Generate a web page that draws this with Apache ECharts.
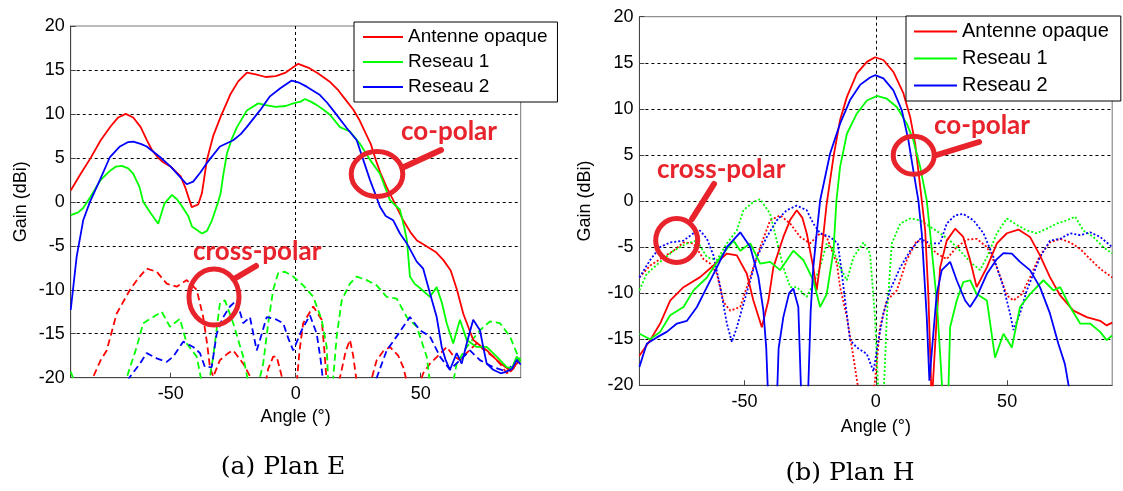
<!DOCTYPE html>
<html><head><meta charset="utf-8">
<script src="https://cdn.jsdelivr.net/npm/echarts@6/dist/echarts.min.js"></script>
<style>html,body{margin:0;padding:0;background:#fff}#c{width:1123px;height:491px}</style>
</head><body><div id="c"></div><script>
// ---------- data ----------
const seriesNames = ['Antenne opaque', 'Reseau 1', 'Reseau 2'];
const xTicks = [-50, 0, 50];
const panelCaptions = ['(a) Plan E', '(b) Plan H'];
const annotationTexts = ['co-polar', 'cross-polar'];

// Plan E, co-polar (solid)
const planE_co_antenne = [[-90,1.3],[-86,3.2],[-82,5.0],[-78,7.0],[-74,8.6],[-71,9.6],[-68,10.0],[-65,9.6],[-62,8.5],[-59.5,7.0],[-57.5,5.9],[-55,5.0],[-53,4.5],[-50,4.0],[-46,2.9],[-44,1.5],[-41.6,-0.6],[-39,-0.3],[-37.5,1.0],[-35.5,4.8],[-33,7.5],[-30,9.7],[-26,12.3],[-23,13.7],[-19.5,14.7],[-16,14.5],[-12,14.2],[-8,14.3],[-4,14.7],[0,15.5],[1,15.7],[5.5,15.2],[9,14.6],[13.5,13.7],[17,12.7],[20,11.6],[23,10.5],[25.5,9.3],[28,7.8],[30,6.6],[32,4.8],[34,3.2],[36.5,1.6],[39,0.2],[43,-2.1],[46,-3.5],[48.5,-4.4],[52,-5.0],[56,-5.7],[59,-6.6],[62,-7.8],[64.5,-10.0],[67,-12.7],[69,-14.2],[71,-15.7],[74,-16.4],[76.5,-16.9],[79,-17.6],[82,-18.4],[84,-18.8],[86,-19.3],[88,-18.5],[90,-18]];
const planE_co_reseau1 = [[-90,-1.5],[-87,-1.2],[-85,-0.7],[-82,0.6],[-78,2.5],[-74,3.6],[-72,4.0],[-69.5,4.1],[-67,3.8],[-65,3.2],[-62.5,1.7],[-61,0],[-58,-1.3],[-55,-2.5],[-52.5,-0.2],[-49.5,0.8],[-47.5,0.3],[-45.5,-0.5],[-43,-1.6],[-41.5,-2.8],[-37.5,-3.6],[-35.5,-3.3],[-33.5,-2.1],[-31,0],[-30,1.0],[-29,3.0],[-27.5,5.5],[-25.5,7.2],[-23.5,8.5],[-19.5,10.4],[-15,11.2],[-12,11.0],[-8,10.8],[-4,10.9],[-1,11.2],[2,11.4],[3.7,11.7],[6,11.4],[8.5,11.0],[11,10.5],[13.7,9.9],[17.7,8.5],[21.7,8.0],[25.7,6.6],[29.7,4.8],[33.7,3.2],[37.7,0.2],[41.7,-0.9],[43.5,-3.0],[44.5,-4.4],[45.7,-8.5],[47.5,-9.3],[49.7,-9.8],[53.7,-10.8],[56.4,-9.7],[58.5,-11.5],[60.4,-13.8],[63,-16.1],[65.7,-13.4],[68.4,-15.7],[72.4,-16.5],[76.4,-16.5],[80.4,-17.6],[84.4,-18.8],[86.5,-18.9],[88.4,-17.6],[90,-18.2]];
const planE_co_reseau2 = [[-90,-12.3],[-87.6,-6.2],[-85,-2.1],[-82.3,0],[-78.3,2.5],[-74.3,5.1],[-70.3,6.3],[-67,6.8],[-65,6.85],[-62,6.6],[-59.6,6.3],[-54.3,5.1],[-50,4.0],[-46.3,2.85],[-43.6,2.0],[-41,2.3],[-38,3.4],[-35.6,4.4],[-30.3,6.3],[-25,7.0],[-22,7.7],[-19.6,8.5],[-14.3,10.4],[-10.3,12.0],[-6.3,12.9],[-1.6,13.8],[1,13.6],[4.4,13.1],[9.7,12.15],[12.5,11.3],[15,10.4],[20.4,8.4],[24.4,7.0],[27,4.8],[29.7,2.5],[31.7,1.0],[33.7,-0.55],[36,-1.6],[39,-2.1],[41.7,-3.6],[44.4,-4.7],[48.4,-6.8],[51,-7.6],[53.7,-10.4],[56.4,-13.1],[58.4,-16.5],[60,-18],[61.7,-19.1],[64.4,-17.2],[66.4,-18.4],[68.5,-16],[71,-13.4],[73.7,-14.6],[75,-16.5],[76.4,-18.4],[79,-19.1],[82,-19.5],[84.4,-19.3],[86.5,-19],[88.4,-18],[90,-18.5]];
// Plan E, cross-polar (dashed)
const planE_x_antenne = [[-90,-22],[-82,-21],[-81,-19.9],[-78,-18],[-75.6,-16.9],[-71.6,-12.7],[-66.3,-10],[-63,-8.7],[-59.6,-7.6],[-55.6,-7.95],[-51.6,-9.3],[-47.6,-9.65],[-43.6,-8.9],[-39.6,-10],[-37,-13.1],[-35.5,-16],[-34.3,-18.8],[-33,-19.9],[-30.3,-18],[-27,-17.2],[-25,-16.9],[-21,-18.4],[-17,-20.5],[-13,-22],[-11,-19],[-9,-17.6],[-7.6,-17.6],[-5,-20.5],[0,-22],[1.5,-17],[3,-13.8],[7,-11.9],[10.4,-13.4],[11.5,-17],[12.4,-20.5],[15,-22],[17.7,-20],[20,-17],[21.7,-15.7],[23,-17.5],[24.4,-20.5],[28,-22],[30,-20.5],[32.4,-18],[35,-17],[37.7,-16.5],[41,-17.5],[43,-18.8],[44.5,-20.5],[48,-22],[51,-19.5],[53.7,-18.4],[57,-17.5],[60.4,-16.5],[63,-17.5],[65.7,-18],[69,-17],[72.4,-16.1],[76,-17],[79,-17.6],[82,-18.5],[84.4,-19.5],[87,-19],[89,-18],[90,-18]];
const planE_x_reseau1 = [[-90,-19.3],[-88.5,-20.5],[-87,-22],[-70,-22],[-67.6,-20],[-63.6,-16.5],[-61,-13.8],[-57,-13.1],[-53.6,-12.5],[-50.3,-14.2],[-46.3,-13.3],[-43.6,-16.1],[-39.6,-17.6],[-37.6,-20.5],[-35.5,-22],[-33,-17.6],[-30.3,-11.5],[-28.3,-11.2],[-25,-13.8],[-21,-17.6],[-19,-20.5],[-16,-22],[-13,-18.4],[-11,-13.8],[-9,-10],[-7,-8.1],[-4.3,-7.95],[-1,-8.5],[3,-9.5],[7,-10.8],[10.4,-13.4],[12.4,-16.5],[13,-20.5],[14,-22],[15,-20],[16.4,-15.3],[18.4,-11.2],[21.7,-9.3],[24.4,-8.5],[28.4,-8.9],[32.4,-9.5],[36.4,-10.8],[40.4,-11],[44.4,-13.1],[48.4,-14.2],[52.4,-17.6],[53.7,-20.5],[55,-22],[62,-22],[64.4,-18.4],[68.4,-16.5],[73.7,-14.6],[77.7,-13.6],[81.7,-13.8],[85.7,-15.3],[89,-17.6],[90,-18]];
const planE_x_reseau2 = [[-90,-22],[-70,-22],[-67.5,-20.5],[-66.3,-19.9],[-62.3,-18.4],[-59.6,-17.2],[-55.6,-17.8],[-51.6,-18.2],[-49,-17.6],[-45,-15.9],[-41,-16.5],[-38.3,-17.2],[-36.3,-18.8],[-33.6,-18.8],[-31.6,-15],[-29,-13.1],[-26.3,-11.9],[-23.6,-11.2],[-21,-13.8],[-18.3,-13.1],[-15.6,-16.9],[-14.3,-15.7],[-11.6,-13.1],[-7.6,-13.4],[-5,-13.8],[-3,-15.5],[-1,-16.9],[2.4,-14.6],[5.7,-12.9],[8.4,-15],[10,-18],[11,-20.5],[13,-22],[30,-22],[32.4,-20],[36.4,-16.9],[40.4,-15.3],[45.7,-13.1],[49.7,-14.6],[53.7,-15.3],[57.7,-17.6],[61.7,-19.1],[65.7,-18],[69.7,-16.9],[73.7,-18],[79,-18.8],[84.4,-19.3],[89,-17.8],[90,-17.8]];

// Plan H, co-polar (solid)
const planH_co_antenne = [[-90,-16.8],[-85.9,-15.1],[-82.1,-13.3],[-78.3,-10.8],[-73.2,-9.35],[-66.9,-8.26],[-61.8,-7.0],[-56.7,-5.7],[-52.9,-5.9],[-49.1,-7.9],[-46.6,-10.8],[-43.4,-13.7],[-40.9,-10.8],[-39,-7.2],[-35.2,-3.9],[-32.5,-2.0],[-30.1,-1.0],[-28,-1.8],[-26.3,-3.5],[-23.8,-7.2],[-22.5,-9.7],[-20.6,-5.4],[-18.7,-0.3],[-16.1,4.8],[-13.6,8.8],[-11,11.3],[-7.2,13.85],[-3.4,15.1],[-0.3,15.6],[2.9,15.3],[6.7,14.0],[10.5,11.7],[13.1,9.1],[15,6.2],[16.2,3.3],[17.5,0.07],[18.8,-3.2],[20,-10.1],[21.3,-22],[22,-22],[23.2,-12.6],[24.5,-7.2],[27,-4.3],[30.2,-3.0],[33.3,-3.9],[35.9,-6.4],[38.4,-9.35],[42.3,-7.2],[46.1,-4.6],[49.9,-3.5],[54.3,-3.1],[58.7,-3.9],[62.5,-5.9],[66.3,-8.26],[70.2,-10.25],[75.2,-11.9],[80.3,-12.6],[85.4,-13.0],[87.9,-13.5],[90,-13.2]];
const planH_co_reseau1 = [[-90,-14.4],[-85.9,-15],[-82.1,-14.2],[-78.3,-12.4],[-73.2,-11.5],[-69.4,-9.7],[-64.3,-8.3],[-59.2,-6.1],[-54.2,-4.3],[-51.6,-5.4],[-47.8,-4.6],[-44,-6.8],[-40.2,-6.6],[-36.4,-7.5],[-31.4,-5.4],[-27.6,-6.4],[-23.8,-8.6],[-21.2,-11.5],[-18.7,-10.1],[-16.1,-5.4],[-15,0],[-13.6,3.7],[-11,7.3],[-7.2,9.5],[-3.4,10.9],[0.4,11.4],[4.2,11.1],[8,10.2],[11.8,8.4],[14.3,6.6],[16.9,3.7],[19.4,0.07],[20.7,-3.5],[23.2,-10.8],[24.8,-18],[25.6,-22],[27.5,-22],[28.3,-13.7],[30.8,-10.8],[33.3,-8.8],[35.9,-8.6],[38.4,-10.1],[42.3,-10.8],[45.4,-17],[48.6,-14.4],[51.8,-15.9],[54.9,-11.5],[58.7,-10.1],[63.8,-8.6],[67.6,-9.7],[70.2,-9.35],[74,-11.5],[77.8,-13.3],[81.6,-13.3],[85.4,-14.2],[87.9,-15.1],[90,-14.6]];
const planH_co_reseau2 = [[-90,-18],[-87.2,-15.5],[-83.4,-14.8],[-79.6,-14.2],[-75.7,-13.3],[-71.9,-13],[-68.1,-11.5],[-64.3,-9.35],[-60.5,-7.2],[-56.7,-5.0],[-51.6,-3.4],[-47.8,-5.0],[-44.7,-8.26],[-42.8,-11.9],[-41.7,-16],[-40.9,-22],[-37.7,-22],[-37,-16],[-35.2,-12.6],[-33,-10],[-31.4,-9.5],[-29.5,-11.5],[-28.3,-22],[-25.9,-22],[-24.8,-12],[-23.8,-7.2],[-22.5,-3.5],[-21.2,0.05],[-17.4,5.15],[-13.6,8.4],[-9.8,10.95],[-6,12.6],[-2.2,13.4],[-0.3,13.65],[2.9,13.3],[6.7,12.0],[9.9,9.85],[12.4,6.6],[14.3,3.3],[16.2,0.07],[17.5,-3.5],[19.4,-12.6],[20.4,-19.5],[21.9,-14.4],[23.2,-10.1],[25.1,-7.5],[28.3,-6.6],[30.8,-8.6],[34,-10.8],[35.9,-11.5],[38.4,-10.4],[42.3,-7.9],[46.1,-6.3],[48.6,-5.65],[51.8,-5.7],[54.9,-6.6],[58.7,-7.5],[62.5,-9.35],[66.3,-12.2],[69.5,-15.5],[72,-17.7],[74,-21],[76,-22],[90,-22]];
// Plan H, cross-polar (dotted)
const planH_x_antenne = [[-90,-8.3],[-85.9,-7],[-82.1,-6.3],[-77,-5.4],[-73.2,-4.5],[-69.4,-4.6],[-65.6,-6.3],[-63,-6.8],[-60.5,-7.9],[-57.9,-11],[-55.4,-11.9],[-51.6,-11.5],[-49.1,-9.35],[-46.6,-7.2],[-44,-5],[-40.2,-2.1],[-36.4,-1.55],[-32.6,-2.45],[-28.8,-3.9],[-25,-4.6],[-21.2,-3.5],[-18.7,-3.9],[-14.8,-6.8],[-13.6,-9.35],[-11,-12.6],[-8.5,-17],[-6.6,-20.5],[-5,-22],[-1.5,-22],[-0.3,-19.5],[1.6,-13.7],[4.2,-10.8],[8,-9.7],[11.8,-6.4],[15.6,-4.3],[19.4,-4.6],[23.2,-5.7],[27,-6.3],[30.8,-5],[34.6,-4.2],[38.4,-4.1],[42.3,-5],[46.1,-7.2],[49.9,-10.25],[52.4,-10.8],[55.6,-10.1],[58.7,-8.3],[62.5,-5.9],[66.3,-4.5],[70.2,-4.1],[74,-4.5],[77.8,-5.2],[81.6,-6.3],[85.4,-7.35],[90,-8.3]];
const planH_x_reseau1 = [[-90,-9.7],[-87.2,-7.9],[-82.1,-6.6],[-77,-5.4],[-71.9,-4.6],[-68.1,-4.3],[-64.3,-6.1],[-60.5,-6.4],[-56.7,-4.6],[-52.9,-3.2],[-50.4,-1],[-46.6,-0.1],[-44,0.2],[-40.2,-1.4],[-37.7,-4.3],[-35.2,-7.2],[-32.6,-9.35],[-30.1,-9.35],[-26.3,-10.4],[-23.8,-9],[-21.2,-7.2],[-18.7,-4.6],[-16.1,-5.4],[-13.6,-7.2],[-11,-8.6],[-8.5,-6.1],[-4.7,-4.5],[-2.2,-5.7],[-0.3,-12.6],[1,-21],[3,-21],[4.2,-12.5],[6.1,-4.6],[9.3,-2.45],[13.1,-1.9],[16.9,-2.1],[20.7,-2.8],[24.5,-3.5],[28.3,-4.3],[32.1,-5.4],[35.9,-6.6],[39.7,-7.5],[42.3,-6.1],[46.1,-3.5],[49.9,-1.9],[53.7,-2.6],[57.5,-3.2],[61.3,-3.5],[65.1,-3],[68.9,-2.45],[72.7,-2.1],[75.9,-1.7],[79,-3.2],[82.8,-3.9],[86.6,-5],[90,-5.7]];
const planH_x_reseau2 = [[-90,-8.3],[-85.9,-6.4],[-82.1,-5],[-78.3,-4.5],[-73.2,-4.3],[-69.4,-3.5],[-66.9,-3.2],[-64.3,-4.1],[-61.8,-5.9],[-59.2,-9.35],[-56.7,-13.3],[-54.8,-15.3],[-52.9,-13.7],[-50.4,-11.2],[-47.8,-8.6],[-45.3,-6.1],[-41.5,-3.9],[-37.7,-2.1],[-33.9,-1],[-30.1,-0.5],[-26.3,-1],[-23.8,-2.45],[-21.2,-3.5],[-17.4,-3.9],[-14.5,-4.6],[-13.2,-7.2],[-11.7,-10.8],[-9.8,-15.1],[-7.2,-15.9],[-3.4,-16.6],[-0.9,-18.5],[1,-15.1],[2.9,-12.2],[5.4,-9.7],[9.3,-7.2],[13.1,-5.4],[16.9,-4.1],[20.7,-4.6],[24.5,-4.6],[27,-2.45],[30.2,-1.55],[33.3,-1.4],[37.2,-2.1],[41,-3.5],[44.8,-6.1],[48.6,-9.35],[51.1,-12.2],[52.4,-14],[54.9,-12.2],[57.5,-9.7],[60,-7.9],[62.5,-6.1],[66.3,-4.3],[70.2,-4.1],[74,-3.5],[77.8,-3.7],[81.6,-3.4],[85.4,-3.9],[90,-5]];

// ---------- styling ----------
const COLORS = ['#ff0000', '#00ff00', '#0000ff'];
const ANNOT = '#e8232b';
const FONT = 'Liberation Sans, Arial, sans-serif';

const grids = [
  {left: 70.7, top: 26, width: 450, height: 351.7},
  {left: 639.4, top: 16.7, width: 472.8, height: 368.6}
];

function xAxisFor(i, nameGap, labelMargin) {
  return {
    type: 'value', gridIndex: i, min: -90, max: 90,
    name: 'Angle (°)', nameLocation: 'middle', nameGap: nameGap,
    nameTextStyle: {fontFamily: FONT, fontSize: 18, color: '#000'},
    axisLine: {show: true, onZero: false, lineStyle: {color: '#444', width: 1}},
    axisTick: {show: true, inside: true, length: 5, customValues: xTicks, lineStyle: {color: '#444'}},
    axisLabel: {customValues: xTicks, fontFamily: FONT, fontSize: 18, color: '#000', margin: labelMargin},
    splitLine: {show: true, showMinLine: false, showMaxLine: false, lineStyle: {type: [3, 3], color: '#000', width: 1}}
  };
}
function yAxisFor(i, nameGap) {
  return {
    type: 'value', gridIndex: i, min: -20, max: 20, interval: 5,
    name: 'Gain (dBi)', nameLocation: 'middle', nameGap: nameGap,
    nameTextStyle: {fontFamily: FONT, fontSize: 18, color: '#000'},
    axisLine: {show: true, onZero: false, lineStyle: {color: '#444', width: 1}},
    axisTick: {show: true, inside: true, length: 5, lineStyle: {color: '#444'}},
    axisLabel: {fontFamily: FONT, fontSize: 18, color: '#000', margin: 6},
    splitLine: {show: true, showMinLine: false, showMaxLine: false, lineStyle: {type: [3, 3], color: '#000', width: 1}}
  };
}

function line(name, data, gi, color, type, width) {
  return {
    name: name, type: 'line', xAxisIndex: gi, yAxisIndex: gi, data: data,
    symbol: 'none', clip: true, animation: false, silent: true,
    lineStyle: {color: color, width: width, type: type},
    itemStyle: {color: color}
  };
}

const series = [
  line(seriesNames[0] + ' x', planE_x_antenne, 0, COLORS[0], [7, 4], 1.8),
  line(seriesNames[1] + ' x', planE_x_reseau1, 0, COLORS[1], [7, 4], 1.8),
  line(seriesNames[2] + ' x', planE_x_reseau2, 0, COLORS[2], [7, 4], 1.8),
  line(seriesNames[0], planE_co_antenne, 0, COLORS[0], 'solid', 1.8),
  line(seriesNames[1], planE_co_reseau1, 0, COLORS[1], 'solid', 1.8),
  line(seriesNames[2], planE_co_reseau2, 0, COLORS[2], 'solid', 1.8),
  line(seriesNames[0] + ' x', planH_x_antenne, 1, COLORS[0], [2, 2], 1.8),
  line(seriesNames[1] + ' x', planH_x_reseau1, 1, COLORS[1], [2, 2], 1.8),
  line(seriesNames[2] + ' x', planH_x_reseau2, 1, COLORS[2], [2, 2], 1.8),
  line(seriesNames[0], planH_co_antenne, 1, COLORS[0], 'solid', 1.8),
  line(seriesNames[1], planH_co_reseau1, 1, COLORS[1], 'solid', 1.8),
  line(seriesNames[2], planH_co_reseau2, 1, COLORS[2], 'solid', 1.8)
];

function legendAt(left, top, fs, gap, iw, pad) {
  return {
    show: true, orient: 'vertical', left: left, top: top,
    data: seriesNames.map(n => ({name: n, icon: 'rect'})), selectedMode: false,
    backgroundColor: '#fff', borderColor: '#000', borderWidth: 1, borderRadius: 0,
    padding: pad, itemGap: gap, itemWidth: iw, itemHeight: 2,
    textStyle: {fontFamily: FONT, fontSize: fs, color: '#000', lineHeight: fs + 1}
  };
}

function annot(cx, cy, rx, ry, lx1, ly1, lx2, ly2, tx, ty, text) {
  return [
    {type: 'ellipse', z: 100, shape: {cx: cx, cy: cy, rx: rx, ry: ry}, style: {fill: 'none', stroke: ANNOT, lineWidth: 5}},
    {type: 'line', z: 100, shape: {x1: lx1, y1: ly1, x2: lx2, y2: ly2}, style: {stroke: ANNOT, lineWidth: 6, lineCap: 'round'}},
    {type: 'text', z: 100, x: tx, y: ty, style: {text: text, fill: ANNOT, font: 'bold 26px Lato, "Open Sans", sans-serif', textAlign: 'left', textVerticalAlign: 'middle'}}
  ];
}

const graphics = [].concat(
  annot(377, 174, 25.8, 22.5, 404, 167, 441, 150, 401, 132, annotationTexts[0]),
  annot(214, 297, 25, 28, 234, 279, 256, 266, 193, 252, annotationTexts[1]),
  annot(913.7, 155.3, 20.5, 19, 936.7, 155, 979, 142, 934, 126, annotationTexts[0]),
  annot(676.7, 240.5, 21, 22, 692, 219, 714, 184, 657, 170, annotationTexts[1]),
  [
    {type: 'text', x: 283, y: 467, style: {text: panelCaptions[0], fill: '#000', font: '25px "DejaVu Serif", serif', textAlign: 'center', textVerticalAlign: 'middle'}},
    {type: 'text', x: 850, y: 473, style: {text: panelCaptions[1], fill: '#000', font: '25px "DejaVu Serif", serif', textAlign: 'center', textVerticalAlign: 'middle'}}
  ]
);

const chart = echarts.init(document.getElementById('c'), null, {renderer: 'canvas'});
chart.setOption({
  animation: false,
  backgroundColor: '#fff',
  textStyle: {fontFamily: FONT},
  grid: grids.map(g => Object.assign({show: true, borderColor: '#777', borderWidth: 1, backgroundColor: '#fff', containLabel: false}, g)),
  xAxis: [xAxisFor(0, 26, 7), xAxisFor(1, 33, 8)],
  yAxis: [yAxisFor(0, 41), yAxisFor(1, 45)],
  legend: [legendAt(354, 22, 19, 5, 40, [5, 10, 5, 9]), legendAt(906, 16, 20, 6, 43, [5, 12, 5, 8])],
  series: series,
  graphic: graphics
});
</script></body></html>
